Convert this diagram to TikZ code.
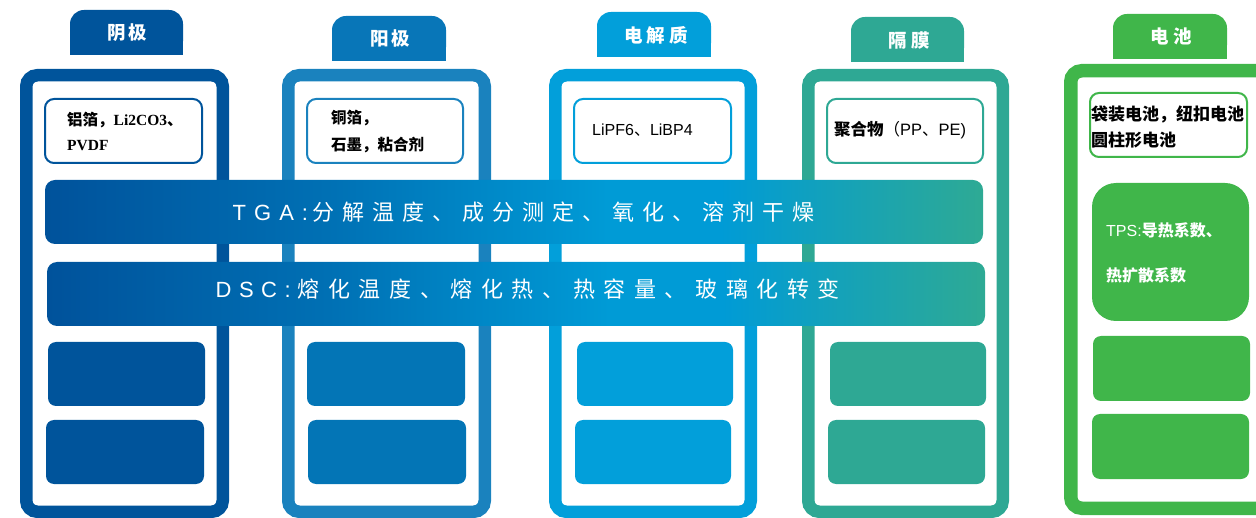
\documentclass[tikz,border=0pt]{standalone}
\usepackage{fontspec}
\setmainfont{Liberation Serif}
\newfontfamily\cjk{Noto Sans CJK SC}
\newfontfamily\arial{Liberation Sans}
\definecolor{cA}{RGB}{0,84,155}
\definecolor{cBf}{RGB}{26,130,190}
\definecolor{cB}{RGB}{3,117,182}
\definecolor{cBt}{RGB}{8,118,184}
\definecolor{cC}{RGB}{2,159,218}
\definecolor{cD}{RGB}{46,168,148}
\definecolor{cE}{RGB}{64,182,74}
\definecolor{g1}{RGB}{0,82,155}
\definecolor{g2}{RGB}{0,112,180}
\definecolor{g3}{RGB}{0,155,214}
\definecolor{g4}{RGB}{46,170,148}
\pgfdeclarehorizontalshading{barshade}{100bp}{color(0bp)=(g1); color(25bp)=(g1); color(40bp)=(g2); color(55bp)=(g3); color(61bp)=(g3); color(75bp)=(g4); color(100bp)=(g4)}
\newlength\trk
\def\spc#1#2{\setlength\trk{#1}\spci#2\relax}
\def\spci#1{\ifx#1\relax\else#1\hspace{\trk}\expandafter\spci\fi}
\tikzset{
  frm/.style={line width=12.5pt, rounded corners=11pt},
  tb/.style={line width=2pt, fill=white, rounded corners=9pt},
  lb/.style={rounded corners=8pt},
  tab/.style={rounded corners=14pt},
  head/.style={text=white, inner sep=0pt, font=\cjk\bfseries\fontsize{18.5}{20}\selectfont},
  lbl/.style={anchor=west, inner sep=0pt, text=black},
  bartext/.style={anchor=west, inner sep=0pt, text=white},
}
\begin{document}
\begin{tikzpicture}[x=1pt,y=-1pt]
\useasboundingbox (0,0) rectangle (1256,518);
\clip (0,0) rectangle (1256,518);
% tabs
\fill[tab, cA] (70,10) rectangle (183,55); \fill[cA] (70,30) rectangle (183,55);
\fill[tab, cBt] (332,16) rectangle (446,61); \fill[cBt] (332,36) rectangle (446,61);
\fill[tab, cC] (597,12) rectangle (711,57); \fill[cC] (597,32) rectangle (711,57);
\fill[tab, cD] (851,17) rectangle (964,62); \fill[cD] (851,37) rectangle (964,62);
\fill[tab, cE] (1113,14) rectangle (1227,59); \fill[cE] (1113,34) rectangle (1227,59);
\node[head] (h1) at (127,33) {\spc{3pt}{阴极}};
\node[head] (h2) at (390,38) {\spc{3pt}{阳极}};
\node[head] (h3) at (656,35) {\spc{4pt}{电解质}};
\node[head] (h4) at (909,40) {\spc{4pt}{隔膜}};
\node[head] (h5) at (1171,36) {\spc{4pt}{电池}};
% frames
\draw[frm, cA] (26.25,75.25) rectangle (222.75,511.75);
\draw[frm, cBf] (288.25,75.25) rectangle (484.75,511.75);
\draw[frm, cC] (555.25,75.25) rectangle (750.75,511.75);
\draw[frm, cD] (808.25,75.25) rectangle (1002.75,511.75);
\draw[line width=13.5pt, rounded corners=11pt, cE] (1070.75,70.75) rectangle (1290,508.25);
% text boxes
\draw[tb, draw=cA] (45,99) rectangle (202,163);
\draw[tb, draw=cBf] (307,99) rectangle (463,163);
\draw[tb, draw=cC] (574,99) rectangle (731,163);
\draw[tb, draw=cD] (827,99) rectangle (983,163);
\draw[tb, draw=cE] (1090,93) rectangle (1247,157);
\node[lbl] (t1a) at (67,120) {\fontsize{15.5}{17}\selectfont\cjk\bfseries 铝箔，\rmfamily\bfseries Li2CO3\cjk\bfseries 、};
\node[lbl] (t1b) at (67,146) {\fontsize{15.5}{17}\selectfont\rmfamily\bfseries PVDF};
\node[lbl] (t2a) at (331,118) {\fontsize{15.5}{17}\selectfont\cjk\bfseries 铜箔，};
\node[lbl] (t2b) at (331,145) {\fontsize{15.5}{17}\selectfont\cjk\bfseries 石墨，粘合剂};
\node[lbl] (t3) at (592,130) {\fontsize{16}{18}\selectfont\arial LiPF6\cjk 、\arial LiBP4};
\node[lbl] (t4) at (834,130) {\fontsize{16.5}{18}\selectfont\cjk\bfseries 聚合物\mdseries （\arial PP\cjk 、\arial PE)};
\node[lbl] (t5a) at (1091,114) {\fontsize{17}{19}\selectfont\cjk\bfseries 袋装电池，纽扣电池};
\node[lbl] (t5b) at (1091,140) {\fontsize{17}{19}\selectfont\cjk\bfseries 圆柱形电池};
% lower boxes
\fill[lb, cA] (48,342) rectangle (205,406);
\fill[lb, cA] (46,420) rectangle (204,484);
\fill[lb, cB] (307,342) rectangle (465,406);
\fill[lb, cB] (308,420) rectangle (466,484);
\fill[lb, cC] (577,342) rectangle (733,406);
\fill[lb, cC] (575,420) rectangle (731,484);
\fill[lb, cD] (830,342) rectangle (986,406);
\fill[lb, cD] (828,420) rectangle (985,484);
\fill[lb, cE] (1093,336) rectangle (1250,401);
\fill[lb, cE] (1092,414) rectangle (1249,479);
% TPS box
\fill[rounded corners=24pt, cE] (1092,183) rectangle (1249,321);
\node[lbl, text=white] (tpsa) at (1106,230) {\fontsize{16}{18}\selectfont\arial TPS:\cjk\bfseries 导热系数、};
\node[lbl, text=white] (tpsb) at (1106,275) {\fontsize{16}{18}\selectfont\cjk\bfseries 热扩散系数};
% bars
\shade[shading=barshade, rounded corners=10pt] (45,180) rectangle (983,244);
\shade[shading=barshade, rounded corners=10pt] (47,262) rectangle (985,326);
\node[bartext] (tga) at (232.5,212) {\fontsize{22}{24}\selectfont\arial\spc{8pt}{TGA}:\hspace{4pt}\cjk\spc{8pt}{分解温度、成分测定、氧化、溶剂干燥}};
\node[bartext] (dsc) at (215.5,289.5) {\fontsize{22}{24}\selectfont\arial\spc{7.5pt}{DSC}:\hspace{7pt}\cjk\spc{8.6pt}{熔化温度、熔化热、热容量、玻璃化转变}};
\end{tikzpicture}
\end{document}
